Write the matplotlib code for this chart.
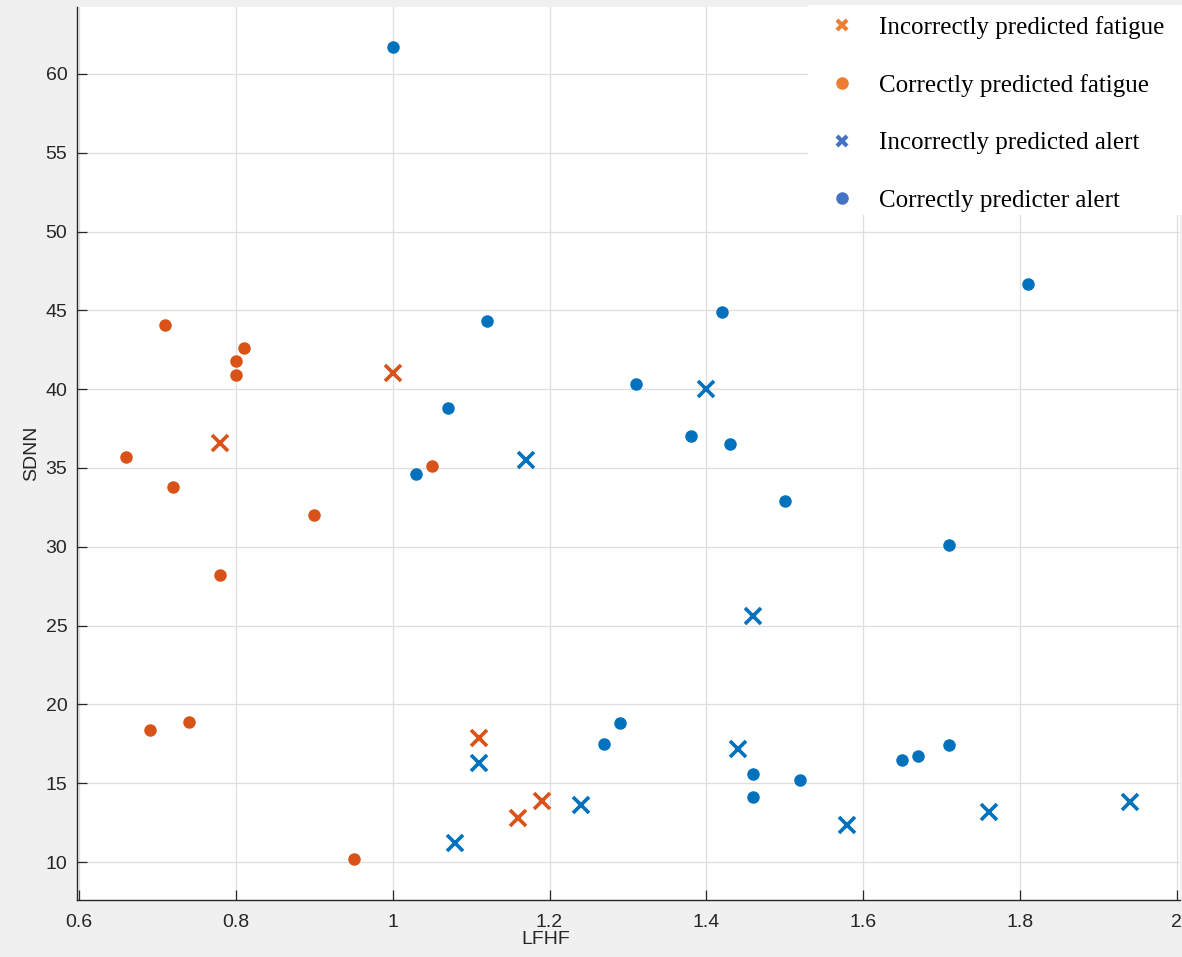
import matplotlib
matplotlib.use('Agg')
import matplotlib.pyplot as plt
import numpy as np
from matplotlib.lines import Line2D
from matplotlib.patches import Rectangle

# values (LFHF, SDNN)
fat_ok_x = [0.71, 0.81, 0.80, 0.80, 0.66, 0.72, 0.90, 0.78, 1.05, 0.69, 0.74, 0.95]
fat_ok_y = [44.1, 42.6, 41.8, 40.9, 35.7, 33.8, 32.0, 28.2, 35.1, 18.4, 18.9, 10.2]

fat_bad_x = [0.78, 1.00, 1.11, 1.19, 1.16]
fat_bad_y = [36.6, 41.0, 17.9, 13.9, 12.8]

alert_ok_x = [1.00, 1.12, 1.42, 1.07, 1.03, 1.31, 1.38, 1.43, 1.50, 1.81,
              1.71, 1.27, 1.29, 1.46, 1.46, 1.52, 1.65, 1.67, 1.71]
alert_ok_y = [61.7, 44.3, 44.9, 38.8, 34.6, 40.3, 37.0, 36.5, 32.9, 46.7,
              30.1, 17.5, 18.8, 15.6, 14.1, 15.2, 16.5, 16.7, 17.4]

alert_bad_x = [1.17, 1.40, 1.46, 1.11, 1.08, 1.24, 1.44, 1.58, 1.76, 1.94]
alert_bad_y = [35.5, 40.0, 25.6, 16.3, 11.2, 13.6, 17.2, 12.35, 13.15, 13.8]

legend_labels = ['Incorrectly predicted fatigue', 'Correctly predicted fatigue',
                 'Incorrectly predicted alert', 'Correctly predicter alert']

orange = '#D95319'
blue = '#0072BD'
leg_orange = '#ED7D31'
leg_blue = '#4472C4'
axcol = '#262626'

plt.rcParams['font.family'] = ['Liberation Sans', 'DejaVu Sans']

W, H = 1182, 957
fig = plt.figure(figsize=(W / 100, H / 100), dpi=100, facecolor='#f0f0f0')
ax = fig.add_axes([77 / W, 1 - 900 / H, (1180 - 77) / W, (900 - 7) / H])
ax.set_facecolor('white')

ax.plot(fat_ok_x, fat_ok_y, linestyle='', marker='o', markersize=9, color=orange, markeredgecolor='none', zorder=3)
ax.plot(fat_bad_x, fat_bad_y, linestyle='', marker='x', markersize=11, markeredgewidth=2.6, color=orange, zorder=3)
ax.plot(alert_ok_x, alert_ok_y, linestyle='', marker='o', markersize=9, color=blue, markeredgecolor='none', zorder=3)
ax.plot(alert_bad_x, alert_bad_y, linestyle='', marker='x', markersize=11, markeredgewidth=2.6, color=blue, zorder=3)

ax.set_xlim(0.5972, 2.0042)
ax.set_ylim(7.59, 64.25)
ax.set_xticks(np.arange(0.6, 2.01, 0.2))
ax.set_xticklabels(['0.6', '0.8', '1', '1.2', '1.4', '1.6', '1.8', '2'])
ax.set_yticks(np.arange(10, 61, 5))

ax.grid(True, color='#dedede', linewidth=0.9)
ax.set_axisbelow(True)
ax.spines['top'].set_visible(False)
ax.spines['right'].set_visible(False)
for s in ['left', 'bottom']:
    ax.spines[s].set_color(axcol)
    ax.spines[s].set_linewidth(1.0)
ax.tick_params(axis='both', direction='in', length=7, width=0.9, color=axcol,
               labelcolor=axcol, labelsize=14)
ax.tick_params(axis='y', pad=7)
ax.tick_params(axis='x', pad=10)

ax.set_xlabel('LFHF', fontsize=14, color=axcol)
ax.set_ylabel('SDNN', fontsize=14, color=axcol)
ax.xaxis.set_label_coords((546 - 77) / 1103, -(931 - 900) / 893)
ax.yaxis.set_label_coords((40 - 77) / 1103, 0.5)

# white box behind the legend (covers the grid, like the pasted legend)
fig.patches.append(Rectangle((808 / W, 1 - 215 / H), (W - 808) / W, (215 - 5) / H,
                             transform=fig.transFigure, facecolor='white',
                             edgecolor='none', zorder=1))

handles = [
    Line2D([], [], linestyle='', marker='x', markersize=7, markeredgewidth=3, color=leg_orange),
    Line2D([], [], linestyle='', marker='o', markersize=9, markeredgecolor='none', color=leg_orange),
    Line2D([], [], linestyle='', marker='x', markersize=7, markeredgewidth=3, color=leg_blue),
    Line2D([], [], linestyle='', marker='o', markersize=9, markeredgecolor='none', color=leg_blue),
]
leg = fig.legend(handles, legend_labels, loc='upper left',
                 bbox_to_anchor=(829.5 / W, 1 - 16 / H), frameon=False,
                 prop={'family': ['Liberation Serif', 'DejaVu Serif'], 'size': 18},
                 handlelength=1.0, handletextpad=0.98, labelspacing=1.4,
                 borderpad=0, borderaxespad=0)
leg.set_zorder(5)

fig.savefig('out.png', dpi=100, facecolor=fig.get_facecolor())
